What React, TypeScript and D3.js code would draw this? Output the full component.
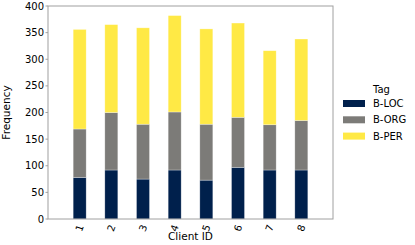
import React from "react";
import * as d3 from "d3";

const clients = ["1", "2", "3", "4", "5", "6", "7", "8"];
const tags = ["B-LOC", "B-ORG", "B-PER"];
const bLoc = [78, 92, 75, 92, 73, 97, 92, 92];
const bOrg = [91, 108, 103, 109, 105, 94, 85, 93];
const bPer = [187, 165, 181, 181, 179, 177, 139, 153];
const yTicks = [0, 50, 100, 150, 200, 250, 300, 350, 400];
const colors = ["#00204c", "#7c7b78", "#ffe945"];

export default function App() {
  const W = 415, H = 245;
  const left = 48, right = 333, top = 6, bottom = 219;
  const x = d3.scalePoint<string>().domain(clients).range([left, right]).padding(1);
  const y = d3.scaleLinear().domain([0, 400]).range([bottom, top]);
  const rows = clients.map((c, i) => ({ client: c, "B-LOC": bLoc[i], "B-ORG": bOrg[i], "B-PER": bPer[i] }));
  const stack = d3.stack<any>().keys(tags)(rows);
  const bw = 13;
  const font = "DejaVu Sans, sans-serif";
  return (
    <svg width={W} height={H} style={{ position: "absolute", left: 0, top: 0, background: "#fff" }} fontFamily={font}>
      {stack.map((layer, li) => (
        <g key={tags[li]} fill={colors[li]}>
          {layer.map((d, i) => (
            <rect key={i} x={(x(clients[i]) as number) - bw / 2} y={y(d[1])} width={bw} height={y(d[0]) - y(d[1])}
              stroke="#ffffff" strokeOpacity={0.5} strokeWidth={0.6} />
          ))}
        </g>
      ))}
      <rect x={left} y={top} width={right - left} height={bottom - top} fill="none" stroke="#a0a0a0" strokeWidth={1} />
      {yTicks.map(t => (
        <g key={t}>
          <line x1={left - 2.5} x2={left} y1={y(t)} y2={y(t)} stroke="#a0a0a0" />
          <text x={left - 4} y={y(t)} dy="0.35em" textAnchor="end" fontSize={10} fill="#000">{t}</text>
        </g>
      ))}
      {clients.map(c => (
        <text key={c} transform={`translate(${(x(c) as number)},${bottom + 9}) rotate(-70)`} textAnchor="middle" dy="0.35em" fontSize={10} fill="#000">{c}</text>
      ))}
      <text x={(left + right) / 2} y={240} textAnchor="middle" fontSize={10.5} fill="#000">Client ID</text>
      <text transform={`translate(10,${(top + bottom) / 2}) rotate(-90)`} textAnchor="middle" fontSize={10.5} fill="#000">Frequency</text>
      <text x={373} y={92.5} fontSize={10} fill="#000">Tag</text>
      {tags.map((t, i) => (
        <g key={t}>
          <rect x={343} y={100 + i * 16.3} width={22} height={7} fill={colors[i]} />
          <text x={373} y={103.5 + i * 16.3} dy="0.35em" fontSize={10} fill="#000">{t}</text>
        </g>
      ))}
    </svg>
  );
}
